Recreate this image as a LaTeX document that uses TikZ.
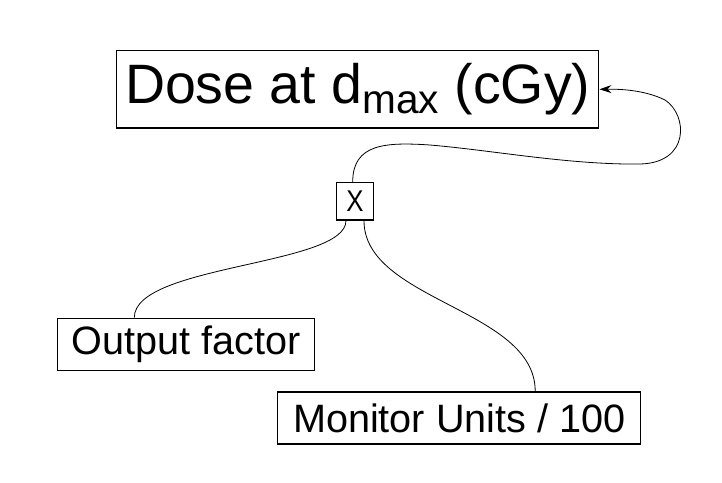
\documentclass[tikz,border=0pt]{standalone}
\usepackage{fontspec}
\setmainfont{Liberation Sans}
\usetikzlibrary{arrows.meta}
\tikzset{
  box/.style={draw=black, line width=1.5pt, inner sep=0pt, align=center},
  conn/.style={draw=black, line width=0.8pt},
  arr/.style={-{Stealth[length=12pt,width=8pt]}}
}
\begin{document}
\begin{tikzpicture}[x=1pt,y=-1pt]
\useasboundingbox (0,0) rectangle (722,482);
\node[box, minimum width=482pt, minimum height=77.3pt] (dose) at (357.7,89.3)
  {\fontsize{55.5}{56}\selectfont Dose at d\raisebox{-10pt}{\fontsize{40.6}{41}\selectfont max} (cGy)};
\node[box, minimum width=36.6pt, minimum height=37.3pt] (x) at (355,201.3)
  {\scalebox{0.86}[1]{\fontsize{30}{31}\selectfont X}};
\node[box, minimum width=257.4pt, minimum height=52.4pt] (of) at (186,344.5)
  {\fontsize{39.6}{40}\selectfont Output factor};
\node[box, minimum width=363pt, minimum height=52.3pt] (mu) at (459.2,418)
  {\fontsize{39.6}{40}\selectfont Monitor Units / 100};
\draw[conn, arr] ([xshift=-2.3pt]x.north)
  .. controls +(0,-38) and (385,142) .. (430,145)
  .. controls (490,150) and (570,165) .. (640,164)
  .. controls (690,163) and (688,115) .. (665,100)
  .. controls (645,90) and (620,89) .. (dose.east);
\draw[conn] ([xshift=-9pt]x.south) .. controls +(0,45) and +(0,-53) .. ([xshift=-51.7pt]of.north);
\draw[conn] ([xshift=9pt]x.south) .. controls +(0,80) and +(0,-82) .. ([xshift=76pt]mu.north);
\end{tikzpicture}
\end{document}
